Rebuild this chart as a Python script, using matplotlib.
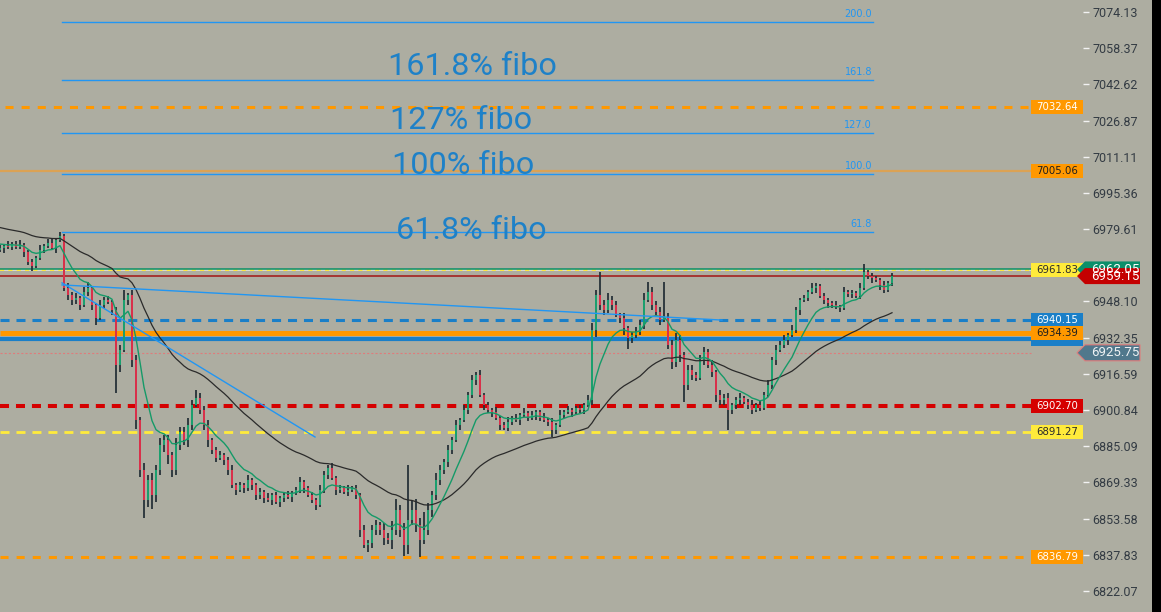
import matplotlib
matplotlib.use("Agg")
import matplotlib.pyplot as plt
import numpy as np
import pandas as pd
from matplotlib.patches import Rectangle, Polygon

plt.rcParams['lines.scale_dashes'] = False

BG = '#adada1'
WICK = '#263238'
UP = '#1b9f6e'
DOWN = '#d8304a'
FIB = '#2196f3'
FIBTXT = '#1e81c8'

# ---------------- data ----------------
pre_closes = [6990.5, 6991.2, 6989.4, 6988.8, 6989.6, 6987.2, 6986.5, 6987.1, 6985.0, 6984.3,
              6984.9, 6982.6, 6981.8, 6982.4, 6980.1, 6979.5, 6980.2, 6978.0, 6977.1, 6977.8,
              6975.9, 6975.2, 6975.8, 6973.6, 6973.0, 6973.7, 6972.1, 6971.3, 6971.9, 6970.5]

first_open = 6970.5
closes = [
    6971.4, 6972.3, 6971.8, 6973.1, 6971.8, 6972.7, 6969.6, 6965.3, 6963.5, 6967.0, 6970.5, 6972.3, 6973.6, 6971.4, 6974.9, 6976.6,
    6954.0, 6950.9, 6948.7, 6949.6, 6946.6, 6952.2, 6954.0, 6946.6, 6940.9, 6946.6, 6948.7, 6947.9, 6944.4, 6920.5, 6927.0, 6948.7,
    6950.9, 6922.6, 6896.5, 6874.7, 6861.7, 6870.4, 6863.8, 6874.7, 6885.6, 6887.8, 6881.2, 6874.7, 6885.6, 6891.3, 6887.8, 6894.3,
    6903.0, 6906.1, 6900.9, 6894.3, 6887.8, 6883.4, 6880.0, 6881.2, 6879.1, 6874.7, 6868.2, 6866.0, 6868.2, 6866.9, 6870.4, 6868.2,
    6863.8, 6865.2, 6862.5, 6861.7, 6863.8, 6860.8, 6862.5, 6863.8, 6863.0, 6864.7, 6866.0, 6869.5, 6866.9, 6863.8, 6861.7, 6859.5,
    6866.0, 6872.6, 6875.6, 6871.2, 6866.0, 6866.9, 6865.2, 6866.0, 6866.9, 6863.8, 6848.6, 6842.1, 6842.9, 6848.6, 6850.8, 6848.6,
    6845.1, 6844.3, 6848.6, 6857.3, 6848.6, 6842.1, 6852.9, 6857.3, 6850.8, 6844.3, 6848.6, 6857.3, 6863.8, 6870.4, 6874.7, 6878.2,
    6883.4, 6887.8, 6894.3, 6896.5, 6900.9, 6907.4, 6913.9, 6916.1, 6907.4, 6903.0, 6900.9, 6900.0, 6897.4, 6894.3, 6893.0, 6895.7,
    6897.4, 6896.5, 6898.7, 6899.6, 6897.4, 6898.7, 6900.0, 6897.4, 6896.5, 6895.7, 6892.1, 6894.3, 6898.7, 6900.0, 6900.9, 6900.0,
    6901.7, 6900.9, 6903.0, 6905.2, 6935.7, 6950.9, 6946.6, 6944.4, 6948.7, 6946.6, 6942.2, 6940.9, 6936.6, 6932.2, 6933.5, 6934.8,
    6937.9, 6948.7, 6952.2, 6946.6, 6943.5, 6940.0, 6940.9, 6929.2, 6921.7, 6931.3, 6924.8, 6911.7, 6918.3, 6916.1, 6914.8, 6922.6,
    6926.1, 6920.5, 6917.4, 6907.4, 6905.2, 6906.1, 6900.9, 6903.0, 6905.2, 6906.1, 6904.3, 6903.0, 6900.9, 6903.0, 6901.7, 6907.4,
    6911.7, 6922.6, 6927.0, 6929.2, 6931.3, 6933.5, 6935.7, 6944.4, 6948.7, 6949.6, 6952.2, 6954.0, 6954.8, 6950.5, 6948.7, 6947.4,
    6946.6, 6945.7, 6945.3, 6952.2, 6951.4, 6951.8, 6950.5, 6954.0, 6960.9, 6959.2, 6958.3, 6957.5, 6955.3, 6953.1, 6956.2, 6959.15]

upper_wicks = [
    1.5, 1, 2, 1, 1.5, 2, 1, 1, 1.5, 1, 2, 1, 1.5, 2, 1, 1.7,
    1, 2, 1.5, 2, 1, 2, 2.5, 1, 1, 2, 1.5, 2, 1, 1.5, 2, 4.4,
    1, 2, 2, 1.5, 3, 2, 3, 2, 3, 2, 2, 1.5, 3, 2, 2, 3,
    2, 3.6, 2, 1.5, 2, 1, 1.5, 2, 1, 1.5, 2, 1, 1.5, 1, 2, 1,
    1, 1.5, 1, 2, 1, 1.5, 1, 1, 2, 1, 1.5, 2, 1, 1, 1.5, 1,
    2, 1.5, 1.5, 2, 1, 1.5, 1, 2, 1, 1.5, 1, 2, 1.5, 2, 2, 1.5,
    3, 2, 4, 5, 2, 3, 24, 4, 5, 3, 8, 3, 2, 3, 2, 1.5,
    2, 1.5, 2, 1, 2, 1.5, 2, 1.3, 2, 1, 1.5, 1, 2, 1, 1.5, 2,
    1, 1.5, 1, 2, 1, 1.5, 1, 1, 2, 1, 1.5, 1, 2, 1, 1.5, 1,
    1, 1.5, 1, 2, 3, 2, 10, 2, 3, 2, 1.5, 1, 2, 1, 1.5, 2,
    2, 3, 4.4, 2, 1.5, 2, 15.7, 2, 2, 3, 2, 1.5, 2, 2, 1.5, 2,
    2, 1.5, 2, 1, 2, 1.5, 2, 1, 1.5, 2, 1, 1.5, 2, 1, 2, 1.5,
    2, 1.5, 2, 1.5, 2, 1, 2, 1.5, 1, 1.5, 1, 2, 1.5, 1, 1.5, 1,
    1, 1.5, 1, 2, 1, 1.5, 1, 2, 3.5, 1, 1.5, 1, 1, 1.5, 1, 1.5]

lower_wicks = [
    1, 2, 1, 1.5, 1, 1, 2, 1.5, 2, 1, 1, 1.5, 1, 1, 2, 1,
    1.5, 2, 2, 1.5, 2, 1, 1.5, 2, 3, 1, 1.5, 1, 2, 12.4, 3, 1,
    2, 3, 4, 3, 8, 3, 6, 3, 2, 3, 4, 3, 2, 2, 2, 3,
    2, 1, 2, 2, 3, 1.5, 2, 1, 2, 2, 1.5, 2, 1, 2, 1.5, 2,
    2, 1.5, 2, 1, 2, 1, 2, 1.5, 1, 2, 1, 1.5, 2, 1, 1.5, 2,
    1, 1.5, 2, 1, 2, 1.5, 1, 2, 1, 1.5, 3, 1.5, 3, 2, 2, 2,
    3, 2, 4, 2, 3, 5, 4, 2, 3, 7.5, 2, 2, 3, 2, 2, 1.5,
    2, 1.5, 1, 2, 1, 2, 1.5, 2, 1, 2, 1.5, 2, 1, 2, 1, 1.5,
    1.5, 1, 2, 1, 1.5, 1, 2, 1.5, 1, 2, 3, 1.5, 1, 1.5, 1, 2,
    1, 1.5, 2, 1, 2, 3, 2, 2, 1.5, 2, 1, 2, 3, 5, 2, 1.5,
    1.5, 2, 1, 2, 1.5, 2, 1, 2, 3, 2, 3, 7.4, 2, 2, 1.5, 1,
    2, 1.5, 2, 3, 2, 2, 8.8, 2, 1.5, 2, 1, 1.5, 2, 1, 1.5, 1,
    1, 1.5, 2, 1, 1.5, 2, 1, 1.5, 2, 1, 1.5, 1, 2, 1, 1.5, 2,
    1.5, 1, 2, 1, 1.5, 2, 1, 1.5, 1, 1.5, 2, 1, 2, 1.5, 1, 1.5]

fast_span = 10
slow_span = 40

fib_zero = 6937.5
fib_hundred = 7003.6
fib_levels = [61.8, 100.0, 127.0, 161.8, 200.0]
fib_level_labels = ['61.8', '100.0', '127.0', '161.8', '200.0']
fib_range = [15.5, 218.25]
fib_texts = ['161.8% fibo', '127% fibo', '100% fibo', '61.8% fibo']
fib_text_prices = [7050.2, 7027.1, 7007.5, 6979.2]
fib_text_idx = [97.0, 97.5, 98.0, 99.0]

trend_x = [[15.5, 180.5], [15.5, 78.75]]
trend_y = [[6955.3, 6940.0], [6956.2, 6889.1]]

tick_values = [7074.13, 7058.37, 7042.62, 7026.87, 7011.11, 6995.36, 6979.61, 6948.10,
               6932.35, 6916.59, 6900.84, 6885.09, 6869.33, 6853.58, 6837.83, 6822.07]

level_prices = [7032.64, 7005.06, 6962.05, 6961.83, 6959.15, 6940.15, 6934.39,
                6931.60, 6925.75, 6902.70, 6891.27, 6836.79]

# ---------------- figure ----------------
W, H = 1161, 612
PLOT_W = 1083
fig = plt.figure(figsize=(W / 100, H / 100), dpi=100, facecolor=BG)
ax = fig.add_axes([0, 0, PLOT_W / W, 1])
ax.set_facecolor(BG)
for s in ax.spines.values():
    s.set_visible(False)

PX = 4.0  # pixels per candle
ax.set_xlim(0, PLOT_W / PX)
ymax = 7079.36
ymin = 6812.9
ax.set_ylim(ymin, ymax)
ppx = (ymax - ymin) / H  # price per pixel

# black strip at right
fig.patches.append(Rectangle((1152 / W, 0), 9 / W, 1, transform=fig.transFigure,
                             facecolor='black', edgecolor='none', zorder=0))

# ---------------- candles ----------------
closes_a = np.array(closes)
opens_a = np.array([first_open] + closes[:-1])
xs = np.arange(len(closes_a))
hi = np.maximum(opens_a, closes_a) + np.array(upper_wicks)
lo = np.minimum(opens_a, closes_a) - np.array(lower_wicks)
ax.vlines(xs, lo, hi, color=WICK, lw=1.3, zorder=4)
colors = [UP if c >= o else DOWN for o, c in zip(opens_a, closes_a)]
body_h = np.maximum(np.abs(closes_a - opens_a), 0.35)
ax.bar(xs, body_h, bottom=np.minimum(opens_a, closes_a), width=0.65,
       color=colors, edgecolor='none', zorder=5)

# ---------------- moving averages ----------------
full = pd.Series(pre_closes + closes)
fx = np.arange(-len(pre_closes), len(closes))
ema_fast = full.ewm(span=fast_span, adjust=False).mean()
ema_slow = full.ewm(span=slow_span, adjust=False).mean()
ax.plot(fx, ema_slow, color='#2a2a2a', lw=0.9, zorder=6)
ax.plot(fx, ema_fast, color='#159a68', lw=1.0, zorder=6)

# ---------------- fibonacci ----------------
span = fib_hundred - fib_zero
for lev, lab in zip(fib_levels, fib_level_labels):
    p = fib_zero + span * lev / 100.0
    ax.plot(fib_range, [p, p], color=FIB, lw=1.0, zorder=3)
    ax.text(fib_range[1] - 0.2, p + 1.3, lab, color=FIB, fontsize=7,
            ha='right', va='bottom', family='DejaVu Sans', zorder=3)
for t, p, xi in zip(fib_texts, fib_text_prices, fib_text_idx):
    ax.text(xi, p, t, color=FIBTXT, fontsize=23.3, family='Roboto',
            ha='left', va='center', zorder=7)

for tx, ty in zip(trend_x, trend_y):
    ax.plot(tx, ty, color=FIB, lw=1.0, zorder=7)

# ---------------- horizontal levels ----------------
LX1 = 1031 / PX
LX2 = PLOT_W / PX
def hline(p, color, lw, dashes=None, x0=0.0):
    kw = dict(color=color, lw=lw, zorder=3, solid_capstyle='butt', dash_capstyle='butt')
    ln, = ax.plot([x0, LX1], [p, p], **kw)
    if dashes:
        ln.set_dashes(dashes)
    return ln

ORANGE = '#ff9800'
hline(level_prices[0], ORANGE, 2.2, (5.8, 5.8), x0=5 / PX)
hline(level_prices[1], '#dba254', 1.6)
hline(level_prices[3], '#dcdcd0', 1.4)
hline(level_prices[3], '#ffeb3b', 1.4, (3, 3))
hline(level_prices[2], '#0a8f6a', 1.1)
hline(level_prices[4], '#a31515', 1.1)
hline(level_prices[5], '#1a7fc8', 2.2, (6.5, 5.0))
hline(level_prices[6], ORANGE, 3.6)
hline(level_prices[7], '#1a7fc8', 3.0)
hline(level_prices[8], '#e07b7b', 0.8, (1.5, 1.5))
hline(level_prices[9], '#d50000', 2.9, (6.5, 5.0))
hline(level_prices[10], '#ffeb3b', 2.0, (6.5, 5.0))
hline(level_prices[11], ORANGE, 2.2, (5.8, 5.8))

def box_label(p, fc, tc, text):
    hh = 7.0 * ppx
    ax.add_patch(Rectangle((LX1, p - hh), LX2 - LX1, 2 * hh, facecolor=fc,
                           edgecolor='none', zorder=10, clip_on=False))
    if text:
        ax.text((LX1 + LX2) / 2, p, text, color=tc, fontsize=7.3, family='DejaVu Sans',
                ha='center', va='center', zorder=11, clip_on=False)

def fmt(p):
    return f"{p:.2f}"

box_label(level_prices[0], ORANGE, 'white', fmt(level_prices[0]))
box_label(level_prices[1], ORANGE, '#1e1e1e', fmt(level_prices[1]))
box_label(level_prices[3], '#ffeb3b', '#2a2a2a', fmt(level_prices[3]))
box_label(level_prices[5], '#1a7fc8', 'white', fmt(level_prices[5]))
box_label(level_prices[7], '#1a7fc8', 'white', None)
box_label(level_prices[6], ORANGE, '#1e1e1e', fmt(level_prices[6]))
box_label(level_prices[9], '#d50000', 'white', fmt(level_prices[9]))
box_label(level_prices[10], '#ffeb3b', '#2a2a2a', fmt(level_prices[10]))
box_label(level_prices[11], ORANGE, 'white', fmt(level_prices[11]))

def arrow_label(p, fc, tc, text, ec=None):
    hh = 8.0 * ppx
    xt = 1077 / PX
    xa = 1085 / PX
    xe = 1140 / PX
    poly = Polygon([[xt, p], [xa, p + hh], [xe, p + hh], [xe, p - hh], [xa, p - hh]],
                   closed=True, facecolor=fc, edgecolor=ec if ec else 'none',
                   lw=0.8, zorder=12, clip_on=False)
    ax.add_patch(poly)
    ax.text(1115 / PX, p, text, color=tc, fontsize=9.5, family='Roboto',
            ha='center', va='center', zorder=13, clip_on=False)

arrow_label(level_prices[2], '#0a8f6a', 'white', fmt(level_prices[2]))
arrow_label(level_prices[4], '#c40000', 'white', fmt(level_prices[4]))
arrow_label(level_prices[8], '#50788c', '#eef2f4', fmt(level_prices[8]), ec='#e07b7b')

# ---------------- axis ----------------
ax.set_xticks([])
ax.yaxis.tick_right()
ax.set_yticks(tick_values)
ax.set_yticklabels([f"{v:.2f}" for v in tick_values])
ax.tick_params(axis='y', direction='out', length=4, width=1.0, color='#f2f2f2',
               pad=2.5, labelcolor='#333b43', labelsize=9)
for lab in ax.get_yticklabels():
    lab.set_family('Roboto')

fig.savefig('out.png', dpi=100, facecolor=BG)
